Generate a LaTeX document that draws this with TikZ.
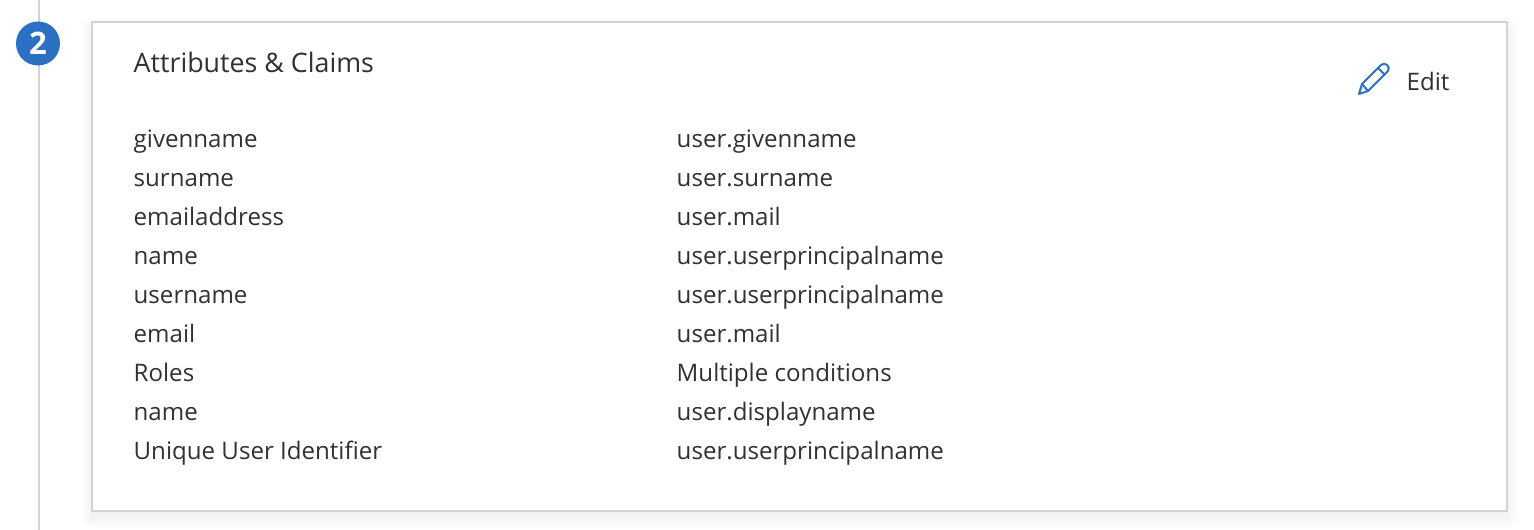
\documentclass[tikz,border=0pt]{standalone}
\usepackage{fontspec}
\setmainfont{Open Sans}
\definecolor{stepblue}{HTML}{2B70C2}
\definecolor{panelgrey}{HTML}{D2D2D2}
\definecolor{inkgrey}{HTML}{323130}
\definecolor{shadowgrey}{HTML}{8C98B4}
\tikzset{
    rowtext/.style={anchor=base west, inner sep=0pt, text=inkgrey, font=\fontsize{24.1}{28}\selectfont},
}
\begin{document}
\begin{tikzpicture}[x=1pt, y=-1pt]
    \useasboundingbox (0,0) rectangle (1534,530);
    \fill[white] (0,0) rectangle (1534,530);
    \draw[panelgrey, line width=2.4pt] (39,0) -- (39,530);
    % soft shadow of the panel
    \foreach \d in {12,10,...,2}
        \fill[shadowgrey, opacity=0.016, rounded corners=\d pt] (93-\d,23-\d+6) rectangle (1506+\d,511+\d+5);
    \draw[panelgrey, line width=2pt, fill=white] (92,22) rectangle (1507,511);
    % step badge
    \node[circle, fill=stepblue, minimum size=44pt, inner sep=0pt, text=white, font=\fontsize{31}{31}\selectfont\bfseries] (badge) at (38,43.5) {2};
    \node[rowtext, font=\fontsize{26.8}{30}\selectfont] (title) at (133.5,72) {Attributes \& Claims};
    \node[rowtext] (edit) at (1406.5,90) {Edit};
    % pencil icon
    \draw[stepblue, line width=2pt, line join=round] (1359,94) -- (1362,84) -- (1381,65)
        .. controls (1385,61) and (1391,67) .. (1388,71) -- (1368,91) -- cycle;
    \draw[stepblue, line width=2pt] (1362,84) -- (1368,91) (1378,68) -- (1385,75);
    \foreach \y/\a/\b [count=\i] in {
        147/givenname/user.givenname,
        186/surname/user.surname,
        225/emailaddress/user.mail,
        264/name/user.userprincipalname,
        303/username/user.userprincipalname,
        342/email/user.mail,
        381/Roles/Multiple conditions,
        420/name/user.displayname,
        459/Unique User Identifier/user.userprincipalname}
    {
        \node[rowtext] (claim\i) at (133.5,\y) {\a};
        \node[rowtext] (value\i) at (676.5,\y) {\b};
    }
\end{tikzpicture}
\end{document}
